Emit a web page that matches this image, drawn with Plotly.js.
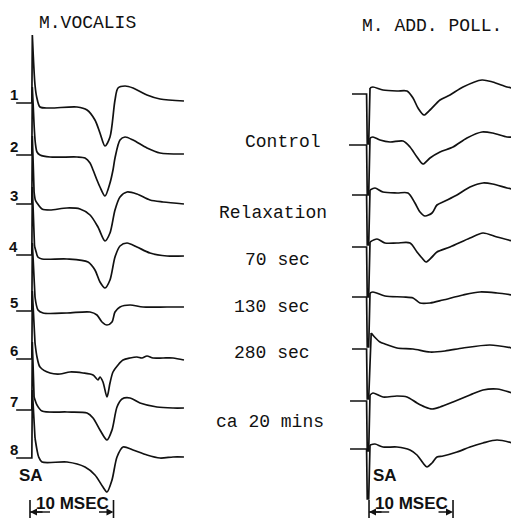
<!DOCTYPE html>
<html><head><meta charset="utf-8">
<script src="https://cdn.plot.ly/plotly-3.0.1.min.js"></script>
<style>html,body{margin:0;padding:0;background:#fff}#chart{width:511px;height:518px}</style>
</head><body><div id="chart"></div>
<script>
// ---- DATA: time (ms after stimulus) and deflection (arbitrary units, up = positive) ----
// M. VOCALIS, traces 1-8
const voc1_ms  = [-1.9,-0.02,0.04,0.16,0.36,0.56,0.96,2.16,5.39,6.59,7.54,8.14,8.74,9.34,9.94,10.30,11.14,12.10,13.77,15.33,18.2];
const voc1_amp = [0,0,68,46,18,6,-4,-5,-4,-7,-17,-30,-43,-34,3,15,17,15,8,4,2];
const voc2_ms  = [-1.9,-0.02,0.04,0.25,0.40,0.60,0.96,2.16,5.39,6.35,6.95,7.31,7.78,8.14,8.74,9.34,9.70,9.94,10.54,11.14,12.10,13.77,15.33,18.2];
const voc2_amp = [0,0,68,30,12,3,0,-2,-2,-3,-8,-15,-25,-32,-41,-28,-15,-3,15,18,15,7,2,1];
const voc3_ms  = [-1.9,-0.02,0.04,0.25,0.40,0.60,1.20,2.16,4.19,5.75,6.95,7.90,8.74,9.34,9.94,10.54,11.38,12.57,14.13,15.69,18.2];
const voc3_amp = [0,0,68,12,4,1,-5,-6,-4,-5,-11,-23,-37,-29,-6,7,12,10,4,2,0];
const voc4_ms  = [-1.9,-0.02,0.04,0.30,0.50,0.70,1.20,4.19,6.71,7.54,8.14,8.74,9.34,9.94,10.54,11.38,12.57,14.13,16.17,18.2];
const voc4_amp = [0,0,68,9,3,-2,-4,-4,-7,-15,-27,-33,-25,-2,9,12,8,2,-1,-1];
const voc5_ms  = [-1.9,-0.02,0.04,0.36,0.72,1.32,4.19,6.95,7.78,8.38,8.98,9.58,9.94,10.54,11.74,13.29,16.17,18.2];
const voc5_amp = [0,0,68,14,1,-2,-2,-1,-4,-11,-14,-11,-1,4,6,4,4,4];
const voc6_ms  = [-1.9,-0.02,0.04,0.36,0.60,0.96,2.16,3.35,4.55,6.11,7.31,7.90,8.14,8.50,8.98,9.34,9.70,10.30,10.90,11.74,12.57,13.17,13.77,14.49,15.69,16.89,18.2];
const voc6_amp = [0,0,68,16,2,-8,-14,-15,-13,-14,-16,-21,-18,-23,-38,-24,-13,-6,-1,1,2,1,3,1,1,1,-1];
const voc7_ms  = [-1.9,-0.02,0.04,0.25,0.60,1.20,4.19,6.59,7.31,8.14,8.98,9.58,10.18,10.78,11.74,12.93,14.97,16.89,18.2];
const voc7_amp = [0,0,68,13,5,-1,-2,-3,-8,-20,-30,-20,3,11,12,7,3,2,2];
const voc8_ms  = [-1.9,-0.02,0.04,0.36,0.60,0.80,1.20,4.19,6.35,7.54,8.50,8.98,9.58,10.18,10.90,12.10,13.77,15.33,16.89,18.2];
const voc8_amp = [0,0,68,20,8,1,-4,-4,-9,-17,-29,-34,-22,1,11,8,3,0,1,1];

// M. ADD. POLL., traces 1-8
const add1_ms  = [-1.79,-0.05,0.03,0.2,0.36,0.71,1.90,3.57,4.76,5.48,6.07,6.79,7.50,8.69,9.88,11.43,13.69,14.95,16.67,17.3];
const add1_amp = [0,0,-50,-50,6,7,4,3,3,-4,-14,-21,-16,-6,-1,7,14,12,7,6];
const add2_ms  = [-2.14,-0.05,0.03,0.2,0.36,0.71,1.55,2.74,4.29,5.12,5.95,6.67,7.50,8.69,10.24,11.90,13.69,14.95,16.67,17.3];
const add2_amp = [0,0,-50,-50,7,8,5,3,4,-2,-12,-19,-13,-7,-2,7,13,12,8,8];
const add3_ms  = [-1.79,-0.05,0.03,0.2,0.36,0.95,1.90,3.57,4.88,5.71,6.31,6.90,7.74,8.33,9.29,10.71,12.26,13.81,14.95,16.67,17.3];
const add3_amp = [0,0,-50,-50,5,7,3,2,2,-8,-17,-21,-18,-10,-6,0,8,12,11,7,6];
const add4_ms  = [-1.79,-0.05,0.03,0.2,0.36,1.19,2.14,3.57,5.12,5.95,6.55,7.02,7.74,8.33,9.88,12.26,13.81,15.48,17.3];
const add4_amp = [0,0,-50,-50,5,8,4,4,4,-5,-11,-15,-10,-5,0,9,14,10,6];
const add5_ms  = [-1.79,-0.05,0.03,0.2,0.36,0.71,2.14,4.29,5.48,6.31,7.50,9.05,11.43,13.45,15.48,17.3];
const add5_amp = [0,0,-50,-50,4,5,1,0,-1,-6,-6,-3,2,5,4,2];
const add6_ms  = [-1.79,-0.05,0.03,0.2,0.5,0.9,1.55,2.14,3.57,5.48,7.50,9.29,11.43,14.64,17.3];
const add6_amp = [0,0,-50,-50,16,12,7,5,1,0,-3,-2,1,4,1];
const add7_ms  = [-2.02,-0.05,0.03,0.2,0.36,0.71,1.90,3.57,4.76,5.95,6.90,7.74,8.69,10.24,12.26,13.81,15.48,17.3];
const add7_amp = [0,0,-50,-50,6,8,4,5,4,-2,-6,-8,-6,-1,6,11,12,8];
const add8_ms  = [-2.02,-0.05,0.03,0.2,0.36,0.95,1.90,3.57,5.12,5.95,6.67,7.14,7.74,8.33,9.05,10.71,12.26,13.81,15.48,17.3];
const add8_amp = [0,0,-50,-50,4,5,2,2,-1,-6,-14,-18,-14,-8,-7,-3,2,6,9,6];

const traceLabels = ['1','2','3','4','5','6','7','8'];
const conditionLabels = ['Control','Relaxation','70 sec','130 sec','280 sec','ca 20 mins'];
const panelTitles = ['M.VOCALIS','M. ADD. POLL.'];
const scaleBarMs = 10;

// ---- LAYOUT CONSTANTS (pixels of the 511x518 page) ----
const W = 511, H = 518;
const vocBase = [103,155,204,255,311,359,410,458];
const addBase = [94,145,195,247,297,349,401,449];
const condY = [142,213,260,307,353,422];
const condX = [283,273,277,272,272,270];
const px = x => x / W, py = y => 1 - y / H;

const vocSeries = [[voc1_ms,voc1_amp],[voc2_ms,voc2_amp],[voc3_ms,voc3_amp],[voc4_ms,voc4_amp],
                   [voc5_ms,voc5_amp],[voc6_ms,voc6_amp],[voc7_ms,voc7_amp],[voc8_ms,voc8_amp]];
const addSeries = [[add1_ms,add1_amp],[add2_ms,add2_amp],[add3_ms,add3_amp],[add4_ms,add4_amp],
                   [add5_ms,add5_amp],[add6_ms,add6_amp],[add7_ms,add7_amp],[add8_ms,add8_amp]];

const traces = [];
const lineCol = '#111';
function addTrace(ms, amp, base, xa, split) {
  const y = amp.map(v => -base + v);
  traces.push({x: ms.slice(0, split + 1), y: y.slice(0, split + 1), xaxis: xa, yaxis: 'y',
    mode: 'lines', line: {color: lineCol, width: 1.7}, hoverinfo: 'skip', showlegend: false});
  traces.push({x: ms.slice(split), y: y.slice(split), xaxis: xa, yaxis: 'y',
    mode: 'lines', line: {color: lineCol, width: 1.7, shape: 'spline', smoothing: 0.8}, hoverinfo: 'skip', showlegend: false});
}
vocSeries.forEach((s, i) => addTrace(s[0], s[1], vocBase[i], 'x', 3));
addSeries.forEach((s, i) => addTrace(s[0], s[1], addBase[i], 'x2', 4));

const mono = {family: 'Liberation Mono, Courier New, monospace', size: 18, color: '#111'};
const sans = {family: 'Liberation Sans, Arial, sans-serif', size: 17, color: '#111', weight: 'bold'};
const annotations = [];
annotations.push({xref:'paper', yref:'paper', x:px(87), y:py(23), text:panelTitles[0], showarrow:false, font:mono, xanchor:'center', yanchor:'middle'});
annotations.push({xref:'paper', yref:'paper', x:px(432), y:py(26), text:panelTitles[1], showarrow:false, font:mono, xanchor:'center', yanchor:'middle'});
conditionLabels.forEach((t, i) => annotations.push({xref:'paper', yref:'paper', x:px(condX[i]), y:py(condY[i]), text:t,
  showarrow:false, font:mono, xanchor:'center', yanchor:'middle'}));
traceLabels.forEach((t, i) => annotations.push({xref:'paper', yref:'paper', x:px(20), y:py(vocBase[i] + 2), text:'<b>' + t + '</b>',
  showarrow:false, font:{family:'Liberation Sans, Arial, sans-serif', size:15, color:'#111'}, xanchor:'right', yanchor:'bottom'}));
annotations.push({xref:'paper', yref:'paper', x:px(31), y:py(475), text:'SA', showarrow:false, font:sans, xanchor:'center', yanchor:'middle'});
annotations.push({xref:'paper', yref:'paper', x:px(385), y:py(475), text:'SA', showarrow:false, font:sans, xanchor:'center', yanchor:'middle'});
annotations.push({xref:'paper', yref:'paper', x:px(72), y:py(503), text:'10 MSEC', showarrow:false, font:sans, xanchor:'center', yanchor:'middle'});
annotations.push({xref:'paper', yref:'paper', x:px(411), y:py(503), text:'10 MSEC', showarrow:false, font:sans, xanchor:'center', yanchor:'middle'});

const shapes = [];
[['x', -0.24], ['x2', 0.24]].forEach(([xr, s]) => {
  const e = s + scaleBarMs;
  shapes.push({type:'line', xref:xr, yref:'paper', x0:s, x1:s, y0:py(518), y1:py(500), line:{color:lineCol, width:1.6}});
  shapes.push({type:'line', xref:xr, yref:'paper', x0:e, x1:e, y0:py(518), y1:py(500), line:{color:lineCol, width:1.6}});
  shapes.push({type:'line', xref:xr, yref:'paper', x0:s, x1:s + 2.4, y0:py(512), y1:py(512), line:{color:lineCol, width:1.4}});
  annotations.push({xref:xr, yref:'paper', x:s, y:py(512), ax:14, ay:0, text:'', showarrow:true, arrowhead:2, arrowsize:1, arrowwidth:1.4, arrowcolor:lineCol});
  annotations.push({xref:xr, yref:'paper', x:e, y:py(512), ax:-16, ay:0, text:'', showarrow:true, arrowhead:2, arrowsize:1, arrowwidth:1.4, arrowcolor:lineCol});
});

const layout = {
  width: W, height: H, margin: {l:0, r:0, t:0, b:0},
  paper_bgcolor: '#fff', plot_bgcolor: '#fff', showlegend: false,
  xaxis: {domain:[0,1], range:[-32/8.35, (W-32)/8.35], visible:false, fixedrange:true},
  xaxis2: {domain:[0,1], overlaying:'x', anchor:'y', range:[-367/8.4, (W-367)/8.4], visible:false, fixedrange:true},
  yaxis: {domain:[0,1], range:[-H, 0], visible:false, fixedrange:true},
  annotations, shapes
};
Plotly.newPlot('chart', traces, layout, {displayModeBar:false, staticPlot:true});
</script></body></html>
